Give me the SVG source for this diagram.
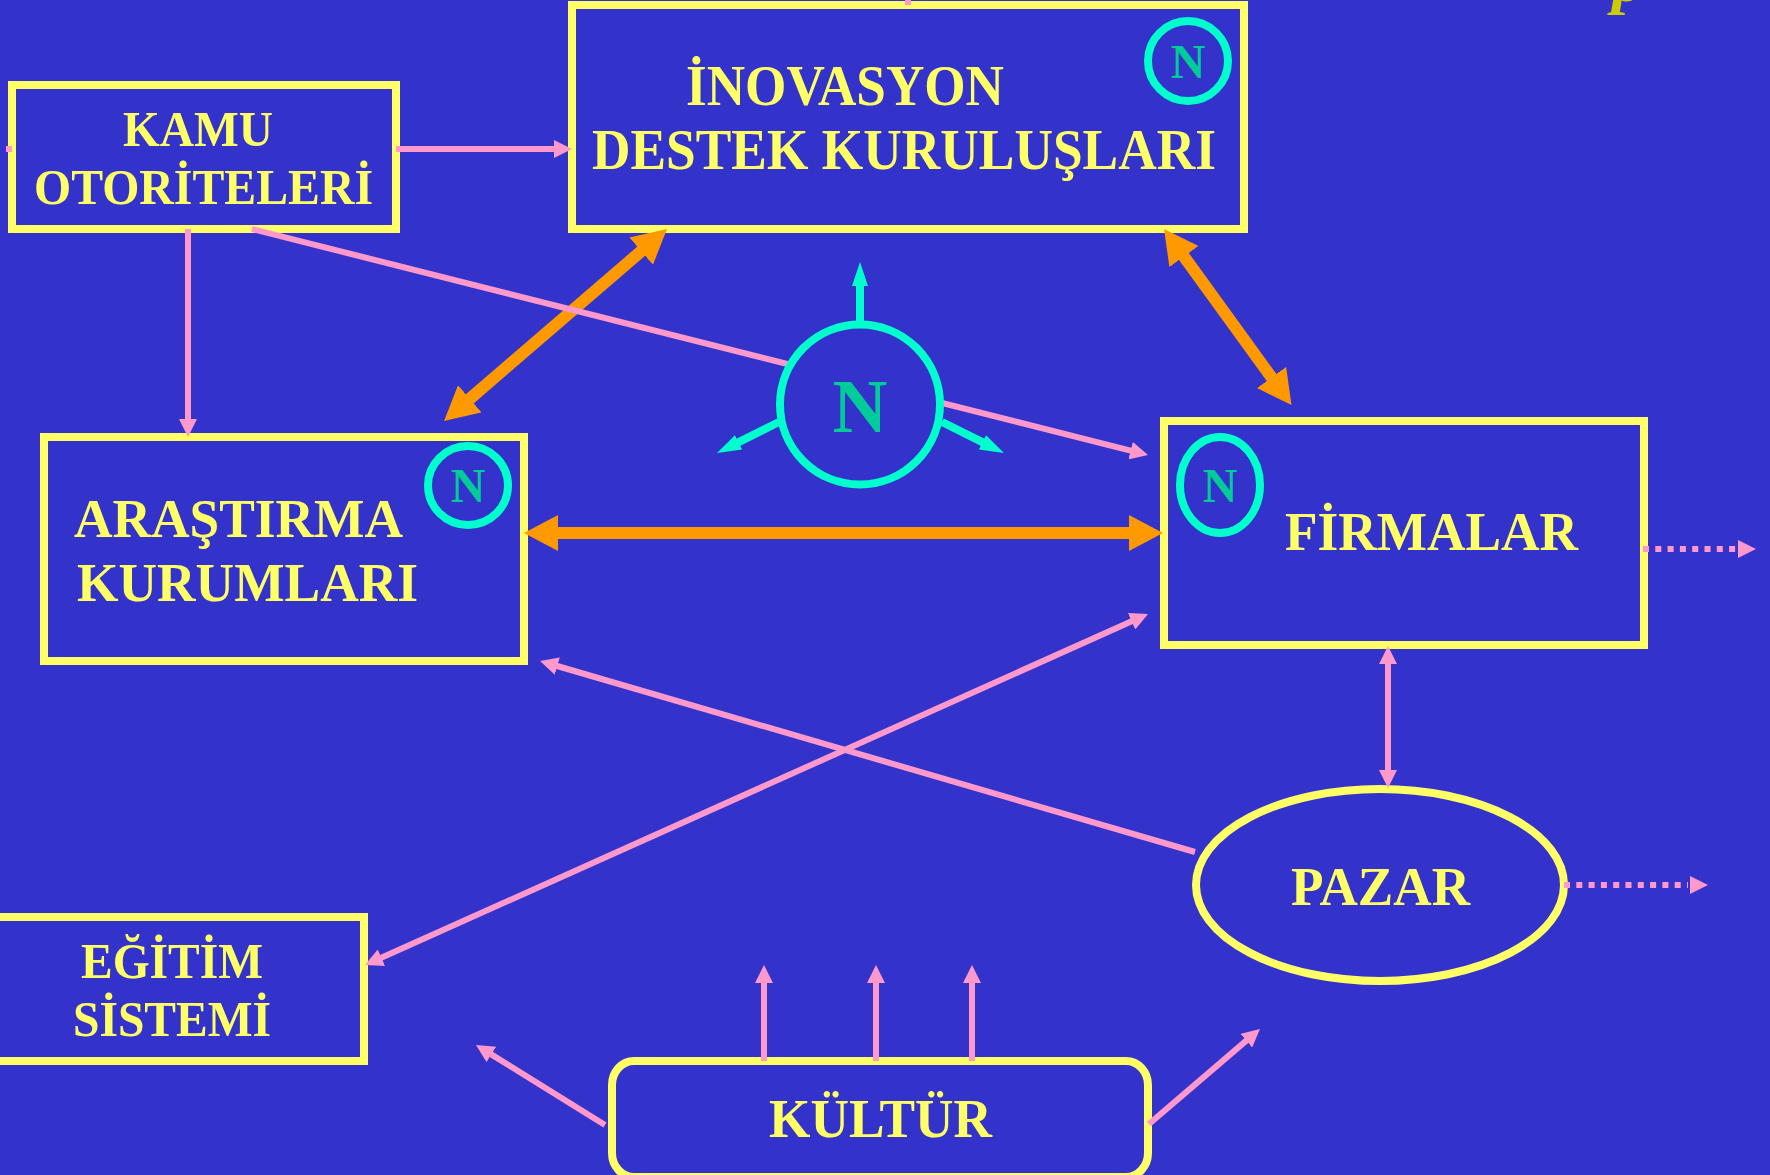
<svg xmlns="http://www.w3.org/2000/svg" width="1770" height="1175" viewBox="0 0 1770 1175">
<style>
.bg{fill:#3333cc}
.box{fill:#3333cc;stroke:#ffff66;stroke-width:8}
.ring{fill:#3333cc;stroke:#00ffcc;stroke-width:8}
text{font-family:"Liberation Serif","Times New Roman",serif;font-weight:700}
.lab{fill:#ffff66;font-size:54px}
.lab50{fill:#ffff66;font-size:50px}
.lab56{fill:#ffff66;font-size:56px}
.n{fill:#00cc99;font-size:48px;text-anchor:middle}
.pink{stroke:#ff99cc;stroke-width:6;fill:none}
.dot{stroke-dasharray:6 6.3}
.or{stroke:#ff9900;stroke-width:12;fill:none}
.teal{stroke:#00ffcc;stroke-width:8;fill:none;marker-end:url(#ht)}
.me{marker-end:url(#hp)}
.ms{marker-start:url(#hp)}
.ome{marker-end:url(#ho);marker-start:url(#ho)}
</style>
<defs>
<marker id="hp" markerUnits="userSpaceOnUse" markerWidth="18" markerHeight="18" refX="2" refY="9" orient="auto-start-reverse"><path d="M0,0L18,9L0,18z" fill="#ff99cc"/></marker>
<marker id="ho" markerUnits="userSpaceOnUse" markerWidth="34" markerHeight="36" refX="2" refY="18" orient="auto-start-reverse"><path d="M0,0L34,18L0,36z" fill="#ff9900"/></marker>
<marker id="ht" markerUnits="userSpaceOnUse" markerWidth="24" markerHeight="16" refX="2" refY="8" orient="auto"><path d="M0,0L24,8L0,16z" fill="#00ffcc"/></marker>
</defs>
<rect class="bg" width="1770" height="1175"/>
<text id="cropped-title" x="1612" y="1" font-size="66" font-style="italic" fill="#cccc00">p</text>
<g id="inovasyon">
<rect class="box" x="572" y="5" width="672" height="224"/>
<text class="lab56" x="686" y="105" textLength="318" lengthAdjust="spacingAndGlyphs">İNOVASYON</text>
<text class="lab56" x="592" y="169" textLength="624" lengthAdjust="spacingAndGlyphs">DESTEK KURULUŞLARI</text>
<circle class="ring" cx="1188" cy="61" r="40"/>
<text class="n" x="1188" y="78">N</text>
</g>
<g id="kamu">
<rect class="box" x="12" y="85" width="384" height="144"/>
<text class="lab50" x="123" y="146" textLength="150" lengthAdjust="spacingAndGlyphs">KAMU</text>
<text class="lab50" x="34" y="204" textLength="339" lengthAdjust="spacingAndGlyphs">OTORİTELERİ</text>
</g>
<g id="arastirma">
<rect class="box" x="44" y="437" width="480" height="224"/>
<text class="lab" x="74" y="537" textLength="329" lengthAdjust="spacingAndGlyphs">ARAŞTIRMA</text>
<text class="lab" x="77" y="601" textLength="341" lengthAdjust="spacingAndGlyphs">KURUMLARI</text>
<ellipse class="ring" cx="468" cy="485.5" rx="40" ry="39.5"/>
<text class="n" x="468" y="502">N</text>
</g>
<g id="firmalar">
<rect class="box" x="1164" y="421" width="480" height="224"/>
<text class="lab" x="1285" y="550" textLength="293" lengthAdjust="spacingAndGlyphs">FİRMALAR</text>
<ellipse class="ring" cx="1220" cy="485" rx="40" ry="48"/>
<text class="n" x="1220" y="502">N</text>
</g>
<g id="pazar">
<ellipse class="box" cx="1380" cy="885" rx="184" ry="96"/>
<text class="lab" x="1291" y="905" textLength="179" lengthAdjust="spacingAndGlyphs">PAZAR</text>
</g>
<g id="egitim">
<rect class="box" x="-10" y="917" width="374" height="144"/>
<text class="lab50" x="81" y="978" textLength="182" lengthAdjust="spacingAndGlyphs">EĞİTİM</text>
<text class="lab50" x="73" y="1036" textLength="198" lengthAdjust="spacingAndGlyphs">SİSTEMİ</text>
</g>
<g id="kultur">
<rect class="box" x="612" y="1061" width="536" height="116" rx="22" ry="24"/>
<text class="lab" x="769" y="1137" textLength="223" lengthAdjust="spacingAndGlyphs">KÜLTÜR</text>
</g>
<g id="connectors">
<path class="pink" d="M6,149H12"/>
<path class="pink" d="M908,0V5"/>
<path class="pink me" d="M396,149H556"/>
<path class="pink me" d="M188,229V421"/>
<path class="or ome" d="M642.7,249.9L468.3,400.1"/>
<path class="or ome" d="M1182.8,254.9L1272.7,379.1"/>
<path class="or ome" d="M556,533H1131"/>
<path class="pink me" d="M252,229L1132.5,451.1"/>
<path class="pink me" d="M1195,852L555.4,665.5"/>
<path class="pink me ms" d="M379.6,958.5L1133.4,620.5"/>
<path class="pink me ms" d="M1388,662V772"/>
<path class="pink dot" d="M1643,549H1736"/>
<path d="M1738,540L1756,549L1738,558z" fill="#ff99cc"/>
<path class="pink dot" d="M1564,885H1688"/>
<path d="M1690,876L1708,885L1690,894z" fill="#ff99cc"/>
<path class="pink me" d="M764,1061V981"/>
<path class="pink me" d="M876,1061V981"/>
<path class="pink me" d="M972,1061V981"/>
<path class="pink me" d="M605,1125L489.6,1053.4"/>
<path class="pink me" d="M1149,1124L1247.8,1039.4"/>
<path class="teal" d="M860,325V284"/>
<path class="teal" d="M779,422L736.7,443.2"/>
<path class="teal" d="M942,422L984.3,443.2"/>
</g>
<g id="n-center">
<circle class="ring" cx="860" cy="404.5" r="80"/>
<text class="n" x="860" y="432" style="font-size:76px">N</text>
</g>
</svg>
